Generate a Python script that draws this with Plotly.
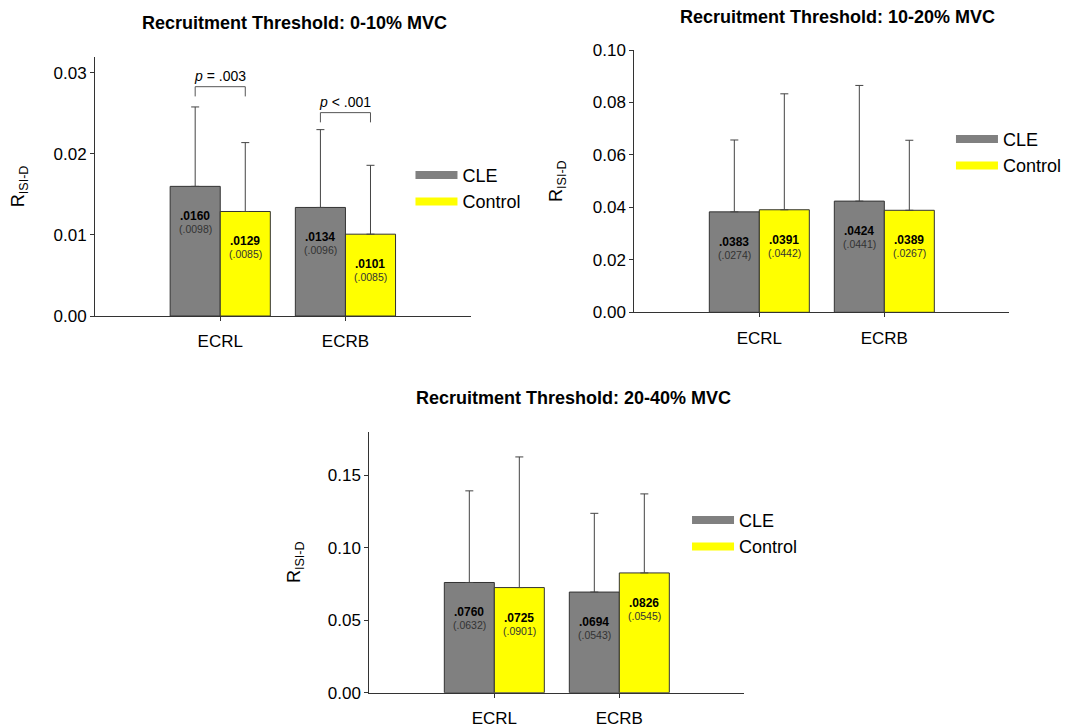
import plotly.graph_objects as go

muscles = ["ECRL", "ECRB"]
groups = ["CLE", "Control"]
titles = ["Recruitment Threshold: 0-10% MVC",
          "Recruitment Threshold: 10-20% MVC",
          "Recruitment Threshold: 20-40% MVC"]

# panel 1: 0-10% MVC
p1_cle_mean = [0.0160, 0.0134]
p1_cle_sd = [0.0098, 0.0096]
p1_ctl_mean = [0.0129, 0.0101]
p1_ctl_sd = [0.0085, 0.0085]
# panel 2: 10-20% MVC
p2_cle_mean = [0.0383, 0.0424]
p2_cle_sd = [0.0274, 0.0441]
p2_ctl_mean = [0.0391, 0.0389]
p2_ctl_sd = [0.0442, 0.0267]
# panel 3: 20-40% MVC
p3_cle_mean = [0.0760, 0.0694]
p3_cle_sd = [0.0632, 0.0543]
p3_ctl_mean = [0.0725, 0.0826]
p3_ctl_sd = [0.0901, 0.0545]

# significance brackets (panel 1)
p_labels = ["<i>p</i> = .003", "<i>p</i> < .001"]
p_bracket_y = [0.0283, 0.0251]

y_ranges = [[0, 0.032], [0, 0.10], [0, 0.18]]
y_dticks = [0.01, 0.02, 0.05]

FONT = "Arial, 'Liberation Sans', sans-serif"
GRAY = "#808080"
YELLOW = "#FFFF00"
EDGE = "#333333"

panels = [
    (p1_cle_mean, p1_cle_sd, p1_ctl_mean, p1_ctl_sd),
    (p2_cle_mean, p2_cle_sd, p2_ctl_mean, p2_ctl_sd),
    (p3_cle_mean, p3_cle_sd, p3_ctl_mean, p3_ctl_sd),
]

# layout geometry (paper fractions)
x_domains = [[0.0814, 0.4328], [0.5859, 0.9367], [0.338, 0.6888]]
y_domains = [[0.5763, 0.933], [0.5814, 0.9422], [0.0582, 0.4172]]
title_pos = [(0.268, 0.9794), (0.7764, 0.9876), (0.5291, 0.4635)]
legend_pos = [(0.3765, 0.7953), (0.8821, 0.8448), (0.6352, 0.3208)]
ytitle_standoff = [27, 25, 22]

fig = go.Figure()
annotations = []
shapes = []
layout = {}

def fmt(v):
    return f"{v:.4f}".lstrip("0")

for k, (cm, cs, tm, ts) in enumerate(panels):
    sfx = "" if k == 0 else str(k + 1)
    xa, ya = "x" + sfx, "y" + sfx
    leg = "legend" + sfx
    for name, mean, sd, color, og in [(groups[0], cm, cs, GRAY, "a"),
                                      (groups[1], tm, ts, YELLOW, "b")]:
        fig.add_trace(go.Bar(
            x=muscles, y=mean, name=name, xaxis=xa, yaxis=ya,
            offsetgroup=og, showlegend=False,
            marker=dict(color=color, line=dict(color=EDGE, width=1)),
            error_y=dict(type="data", array=sd, arrayminus=[0] * len(sd),
                         symmetric=False, color="#444444", thickness=1, width=4),
            hoverinfo="skip",
        ))
        # legend key (wide swatch like the original)
        fig.add_trace(go.Scatter(
            x=[None], y=[None], name=name, xaxis=xa, yaxis=ya, mode="lines",
            line=dict(color=color, width=8), legend=leg, hoverinfo="skip"))
        off = -0.2 if og == "a" else 0.2
        for i, (m, s) in enumerate(zip(mean, sd)):
            annotations.append(dict(
                x=i + off, y=m, xref=xa, yref=ya, text="<b>" + fmt(m) + "</b>",
                showarrow=False, yshift=-30, xanchor="center", yanchor="middle",
                font=dict(family=FONT, size=12, color="black")))
            annotations.append(dict(
                x=i + off, y=m, xref=xa, yref=ya, text="(" + fmt(s) + ")",
                showarrow=False, yshift=-43, xanchor="center", yanchor="middle",
                font=dict(family=FONT, size=10.5, color="#333333")))

    layout["xaxis" + sfx] = dict(
        domain=x_domains[k], anchor=ya, range=[-1, 2], showline=True,
        linecolor="#333333", linewidth=1, ticks="outside", ticklen=4,
        tickcolor="#333333", showgrid=False, zeroline=False, automargin=False,
        ticklabelstandoff=6,
        tickfont=dict(family=FONT, size=17, color="black"))
    layout["yaxis" + sfx] = dict(
        domain=y_domains[k], anchor=xa, range=y_ranges[k], dtick=y_dticks[k],
        tick0=0, tickformat=".2f", showline=True, linecolor="#333333",
        linewidth=1, ticks="outside", ticklen=4, tickcolor="#333333",
        showgrid=False, zeroline=False, automargin=False,
        tickfont=dict(family=FONT, size=17, color="black"),
        title=dict(text="R<sub>ISI-D</sub>", standoff=ytitle_standoff[k],
                   font=dict(family=FONT, size=18, color="black")))
    layout[leg] = dict(
        x=legend_pos[k][0], y=legend_pos[k][1], xanchor="left", yanchor="top",
        bgcolor="rgba(0,0,0,0)", font=dict(family=FONT, size=18, color="black"),
        itemwidth=42, tracegroupgap=0, itemclick=False, itemdoubleclick=False)
    annotations.append(dict(
        x=title_pos[k][0], y=title_pos[k][1], xref="paper", yref="paper",
        xanchor="center", yanchor="middle",
        text="<b>" + titles[k] + "</b>", showarrow=False,
        font=dict(family=FONT, size=18, color="black")))

# significance brackets on panel 1
for i, (lab, yb) in enumerate(zip(p_labels, p_bracket_y)):
    drop = 0.0012
    shapes.append(dict(
        type="path", xref="x", yref="y",
        path=f"M {i-0.2},{yb-drop} L {i-0.2},{yb} L {i+0.2},{yb} L {i+0.2},{yb-drop}",
        line=dict(color="#555555", width=1)))
    annotations.append(dict(
        x=i, y=yb, xref="x", yref="y", text=lab, showarrow=False,
        xanchor="center", yanchor="bottom", yshift=1,
        font=dict(family=FONT, size=14, color="black")))

fig.update_layout(
    template="none",
    width=1069, height=727, margin=dict(l=0, r=0, t=0, b=0, autoexpand=False),
    paper_bgcolor="white", plot_bgcolor="white",
    font=dict(family=FONT, color="black"),
    barmode="group", bargap=0.2, bargroupgap=0,
    annotations=annotations, shapes=shapes, **layout)

fig.write_html("out.html")
